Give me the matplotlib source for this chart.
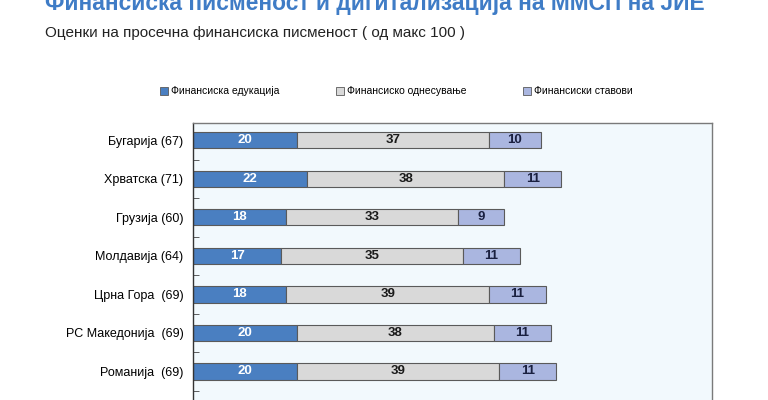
import numpy as np
import matplotlib
matplotlib.use('Agg')
from matplotlib import pyplot as plt
from matplotlib.patches import Patch

plt.rcParams['font.family'] = ['Liberation Sans', 'DejaVu Sans']

countries = ['Бугарија (67)', 'Хрватска (71)', 'Грузија (60)', 'Молдавија (64)',
             'Црна Гора  (69)', 'РС Македонија  (69)', 'Романија  (69)']
edukacija = [20, 22, 18, 17, 18, 20, 20]
odnesuvanje = [37, 38, 33, 35, 39, 38, 39]
stavovi = [10, 11, 9, 11, 11, 11, 11]
series_names = ['Финансиска едукација', 'Финансиско однесување', 'Финансиски ставови']
colors = ['#4a7fc1', '#d9d9d9', '#aab6e0']
text_colors = ['white', '#1a1a1a', '#1a2040']

fig = plt.figure(figsize=(7.68, 4.0), dpi=100)
# title is cut off at the top edge in the original
fig.text(0.059, 0.975, 'Финансиска писменост и дигитализација на ММСП на ЈИЕ',
         fontsize=16.4, fontweight='bold', color='#3f7cc6',
         va='baseline', ha='left')
fig.text(0.059, 0.918, 'Оценки на просечна финансиска писменост ( од макс 100 )',
         fontsize=11, color='#222222', va='center', ha='left')

ax = fig.add_axes([193 / 768, 1 - 430 / 400, 519 / 768, 307 / 400])
ax.set_facecolor('#f2f9fd')

y = np.arange(len(countries))
left = np.zeros(len(countries))
for vals, c, tc in zip([edukacija, odnesuvanje, stavovi], colors, text_colors):
    vals = np.array(vals)
    ax.barh(y, vals, left=left, height=0.42, color=c, edgecolor='#5a5a5a', linewidth=0.8)
    for yi, l, v in zip(y, left, vals):
        ax.text(l + v / 2, yi, str(v), ha='center', va='center', color=tc,
                fontsize=9.5, fontweight='bold')
    left += vals

ax.set_xlim(0, 100)
ax.set_ylim(7.52, -0.45)
ax.set_yticks(y)
ax.set_yticklabels(countries, fontsize=9)
ax.set_yticks(np.arange(len(countries)) + 0.5, minor=True)
ax.tick_params(axis='y', which='major', length=0, pad=7)
ax.tick_params(axis='y', which='minor', length=4, direction='in', color='#444444')
ax.set_xticks([])
ax.grid(axis='x', color='white', linewidth=0.8)
ax.set_axisbelow(True)
for s in ax.spines.values():
    s.set_color('#7a7a7a')
    s.set_linewidth(1.0)
ax.spines['left'].set_color('#333333')

handles = [Patch(facecolor=c, edgecolor='#5a5a5a', linewidth=0.6) for c in colors]
fig.legend(handles, series_names, loc='center', bbox_to_anchor=(0.516, 0.772), ncol=3,
           frameon=False, fontsize=7.5, handlelength=0.8, handleheight=0.8,
           handletextpad=0.3, columnspacing=5.4)

fig.savefig('out.png', dpi=100)
